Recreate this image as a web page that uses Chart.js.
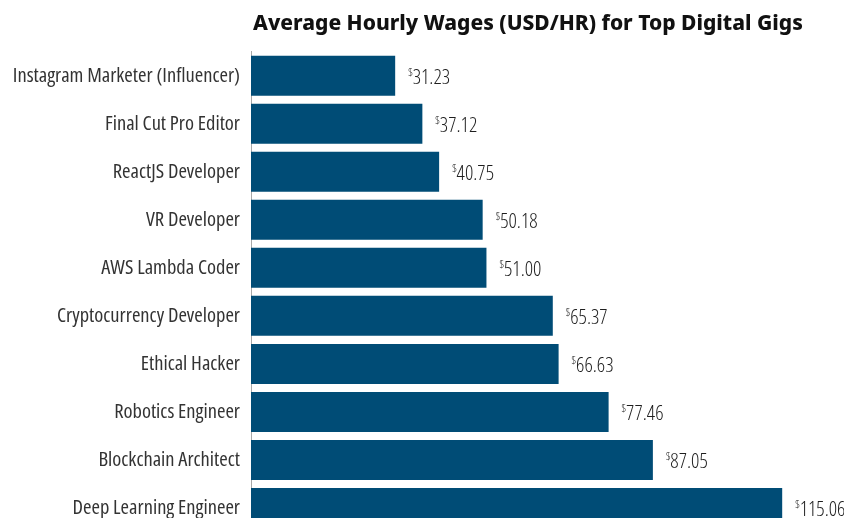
<!DOCTYPE html>
<html>
<head>
<meta charset="utf-8">
<script src="https://cdn.jsdelivr.net/npm/chart.js@4"></script>
<style>
  html, body { margin: 0; padding: 0; background: #fff; overflow: hidden; }
  #wrap { width: 844px; height: 518px; overflow: hidden; }
</style>
</head>
<body>
<div id="wrap"><canvas id="myChart" width="844" height="532"></canvas></div>
<script>
// datos
const categories = [
  'Instagram Marketer (Influencer)',
  'Final Cut Pro Editor',
  'ReactJS Developer',
  'VR Developer',
  'AWS Lambda Coder',
  'Cryptocurrency Developer',
  'Ethical Hacker',
  'Robotics Engineer',
  'Blockchain Architect',
  'Deep Learning Engineer'
];
const wages = [31.23, 37.12, 40.75, 50.18, 51.00, 65.37, 66.63, 77.46, 87.05, 115.06];

const labelFont = '"Open Sans", sans-serif';

// etiquetas de valor con el $ pequeño arriba
const valueLabels = {
  id: 'valueLabels',
  afterDatasetsDraw(chart) {
    const ctx = chart.ctx;
    const meta = chart.getDatasetMeta(0);
    ctx.save();
    ctx.fillStyle = '#1e1e1e';
    ctx.textBaseline = 'alphabetic';
    ctx.textAlign = 'left';
    meta.data.forEach((bar, i) => {
      const x = bar.x + 13;
      const y = bar.y + 8;
      ctx.font = '300 condensed 11px ' + labelFont;
      ctx.fillText('$', x, y - 8);
      const w = ctx.measureText('$').width;
      ctx.font = '300 condensed 20.5px ' + labelFont;
      ctx.fillText(wages[i].toFixed(2), x + w, y);
    });
    ctx.restore();
  }
};

const data = {
  labels: categories,
  datasets: [{
    label: 'Average Hourly Wages',
    backgroundColor: '#004c76',
    borderWidth: 0,
    data: wages,
    categoryPercentage: 1,
    barPercentage: 0.833
  }]
};

const config = {
  type: 'bar',
  data: data,
  plugins: [valueLabels],
  options: {
    indexAxis: 'y',
    responsive: false,
    animation: false,
    layout: { padding: { left: 0, right: 39, top: 0, bottom: 0 } },
    scales: {
      x: {
        min: 0,
        max: 120,
        display: false,
        grid: { display: false }
      },
      y: {
        grid: { display: false, drawTicks: false },
        border: { display: true, color: '#a8a8a8', width: 1 },
        ticks: {
          color: '#333',
          padding: 11,
          font: { family: labelFont, size: 20.5, weight: 'condensed' }
        },
        afterFit(scale) {
          scale.width = 251;
          scale.paddingTop = 0;
          scale.paddingBottom = 0;
        }
      }
    },
    plugins: {
      legend: { display: false },
      tooltip: { enabled: false },
      title: {
        display: true,
        fullSize: false,
        text: 'Average Hourly Wages (USD/HR) for Top Digital Gigs',
        color: '#111',
        font: { family: '"Noto Sans", sans-serif', size: 21, weight: '800' },
        padding: { top: 11, bottom: 15.5 }
      }
    }
  }
};

var myChart = new Chart(document.getElementById('myChart'), config);
</script>
</body>
</html>
